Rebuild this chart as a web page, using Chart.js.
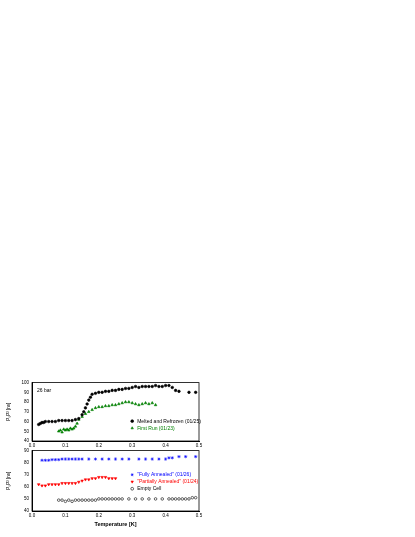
<!DOCTYPE html><html><head><script src="https://cdn.jsdelivr.net/npm/chart.js@4"></script>
<style>body{margin:0;background:#fff;width:415px;height:537px;position:relative;overflow:hidden}
.c{position:absolute;left:0;width:204px}</style></head><body>
<div class="c" style="top:378px;height:71px"><canvas id="a"></canvas></div>
<div class="c" style="top:446px;height:82px"><canvas id="b"></canvas></div>
<script>
const meltX=[0.02,0.025,0.03,0.035,0.04,0.05,0.06,0.07,0.08,0.09,0.10,0.11,0.12,0.13,0.14,0.15,0.155,0.16,0.165,0.17,0.175,0.18,0.19,0.20,0.21,0.22,0.23,0.24,0.25,0.26,0.27,0.28,0.29,0.30,0.31,0.32,0.33,0.34,0.35,0.36,0.37,0.38,0.39,0.40,0.41,0.42,0.43,0.44,0.47,0.49];
const meltY=[57,58,59,59,60,60,60,60,61,61,61,61,61,62,63,67,70,74,78,82,85,88,89,90,90,91,91,92,92,93,93,94,94,95,96,95,96,96,96,96,97,96,96,97,97,95,92,91,90,90];
const firstX=[0.08,0.085,0.09,0.095,0.10,0.105,0.11,0.115,0.12,0.125,0.13,0.135,0.14,0.15,0.16,0.17,0.18,0.19,0.20,0.21,0.22,0.23,0.24,0.25,0.26,0.27,0.28,0.29,0.30,0.31,0.32,0.33,0.34,0.35,0.36,0.37];
const firstY=[50,51,49,52,51,52,51,53,52,53,55,58,62,65,68,70,72,74,75,75,76,76,77,77,78,79,80,80,79,78,77,78,79,78,79,77];
const fullX=[0.03,0.04,0.05,0.06,0.07,0.08,0.09,0.10,0.11,0.12,0.13,0.14,0.15,0.17,0.19,0.21,0.23,0.25,0.27,0.29,0.32,0.34,0.36,0.38,0.40,0.41,0.42,0.44,0.46,0.49];
const fullY=[82,82,82,82.5,82.5,82.5,83,83,83,83,83,83,83,83,83,83,83,83,83,83,83,83,83,83,83,84,84,85,85,85];
const partX=[0.02,0.03,0.04,0.05,0.06,0.07,0.08,0.09,0.10,0.11,0.12,0.13,0.14,0.15,0.16,0.17,0.18,0.19,0.20,0.21,0.22,0.23,0.24,0.25];
const partY=[62,61,61,62,62,62,62,63,63,63,63,63,64,65,66,66,67,67,68,68,68,67,67,67];
const emptyX=[0.08,0.09,0.10,0.11,0.12,0.13,0.14,0.15,0.16,0.17,0.18,0.19,0.20,0.21,0.22,0.23,0.24,0.25,0.26,0.27,0.29,0.31,0.33,0.35,0.37,0.39,0.41,0.42,0.43,0.44,0.45,0.46,0.47,0.48,0.49];
const emptyY=[49,49,48,49,48,49,49,49,49,49,49,49,50,50,50,50,50,50,50,50,50,50,50,50,50,50,50,50,50,50,50,50,50,51,51];
const xTicks=[0,0.1,0.2,0.3,0.4,0.5];
const pts=(x,y)=>x.map((v,i)=>({x:v,y:y[i]}));
const F='Liberation Sans, Arial, sans-serif';
function legend(items,fx,fy,label){return{id:'lg',afterDraw(c){const ctx=c.ctx,a=c.chartArea;ctx.save();
ctx.strokeStyle='#000';ctx.lineWidth=0.8;ctx.strokeRect(a.left,a.top,a.right-a.left,a.bottom-a.top);
ctx.font='5px '+F;ctx.textBaseline='middle';
items.forEach((it,i)=>{const x=a.left+fx*(a.right-a.left),y=a.top+fy*(a.bottom-a.top)+i*7;
ctx.fillStyle=it.fill;ctx.strokeStyle=it.col;ctx.lineWidth=0.6;
Chart.helpers.drawPoint(ctx,{pointStyle:it.ps,radius:1.4,rotation:it.rot||0,borderWidth:0.6},x,y);
ctx.fillStyle=it.col;ctx.fillText(it.t,x+5,y);});
if(label){ctx.fillStyle='#000';ctx.fillText(label,a.left+5,a.top+8);}
ctx.restore();}}}
function mk(id,ds,ymin,ymax,step,ytitle,bottom,leg){
new Chart(document.getElementById(id),{type:'scatter',data:{datasets:ds},plugins:[leg],
options:{animation:false,responsive:true,maintainAspectRatio:false,layout:{padding:{top:3,right:5}},
plugins:{legend:{display:false},tooltip:{enabled:false}},
scales:{x:{min:0,max:0.5,grid:{display:false,tickLength:2,color:'#000'},border:{color:'#000'},
afterBuildTicks:s=>{s.ticks=xTicks.map(v=>({value:v}))},
ticks:{font:{size:4.5,family:F},color:'#000',padding:0,callback:v=>v.toFixed(1),maxRotation:0},
title:{display:bottom,text:'Temperature [K]',font:{size:5.5,family:F,weight:'bold'},color:'#000',padding:0},
afterFit:s=>{s.height=bottom?17:8}},
y:{min:ymin,max:ymax,grid:{display:false,tickLength:2,color:'#000'},border:{color:'#000'},
ticks:{stepSize:step,font:{size:4.5,family:F},color:'#000',padding:1},
title:{display:true,text:ytitle,font:{size:4.5,family:F},color:'#000',padding:{top:6,bottom:0}},
afterFit:s=>{s.width=32}}}}});}
const mkds=(d,ps,col,fill,r,rot)=>({data:d,pointStyle:ps,pointRadius:r||1.3,pointRotation:rot||0,backgroundColor:fill?col:'rgba(0,0,0,0)',borderColor:col,borderWidth:0.6,showLine:false});
const dA=[mkds(pts(meltX,meltY),'circle','#000',1,1.3),mkds(pts(firstX,firstY),'triangle','#008000',1,1.5)];
const dB=[mkds(pts(fullX,fullY),'star','#0000ff',1,1.6),mkds(pts(partX,partY),'triangle','#ff0000',1,1.5,180),mkds(pts(emptyX,emptyY),'circle','#000',0,1.3)];
const L1=legend([{ps:'circle',col:'#000',fill:'#000',t:'Melted and Refrozen (01/25)'},{ps:'triangle',col:'#008000',fill:'#008000',t:'First Run (01/23)'}],0.6,0.66,'26 bar');
const L2=legend([{ps:'star',col:'#0000ff',fill:'#0000ff',t:'"Fully Annealed" (01/26)'},{ps:'triangle',col:'#ff0000',fill:'#ff0000',rot:180,t:'"Partially Annealed" (01/24)'},{ps:'circle',col:'#000',fill:'rgba(0,0,0,0)',t:'Empty Cell'}],0.6,0.4);
mk('a',dA,40,100,10,'P\u2080P\u00B2 [ns]',false,L1);
mk('b',dB,40,90,10,'P\u2080P\u00B2 [ns]',true,L2);
</script></body></html>
